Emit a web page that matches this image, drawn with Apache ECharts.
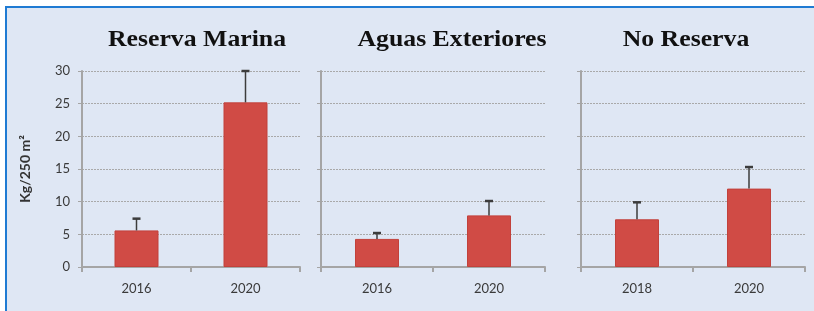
<!DOCTYPE html>
<html>
<head>
<meta charset="utf-8">
<script src="https://cdn.jsdelivr.net/npm/echarts@6/dist/echarts.min.js"></script>
<style>html,body{margin:0;padding:0;background:#fff;}#c{width:814px;height:311px;}</style>
</head>
<body>
<div id="c"></div>
<script>
const titles = ['Reserva Marina', 'Aguas Exteriores', 'No Reserva'];
const categories1 = ['2016', '2020'];
const values1 = [5.6, 25.2];
const errTop1 = [7.4, 30.0];
const categories2 = ['2016', '2020'];
const values2 = [4.3, 7.9];
const errTop2 = [5.2, 10.1];
const categories3 = ['2018', '2020'];
const values3 = [7.3, 12.0];
const errTop3 = [9.9, 15.3];
const yTicks = [0, 5, 10, 15, 20, 25, 30];
const yName = 'Kg/250 m²';

const cats = [categories1, categories2, categories3];
const vals = [values1, values2, values3];
const errs = [errTop1, errTop2, errTop3];

const grids = [
  {left: 82, top: 71, width: 218, height: 196},
  {left: 321, top: 71, width: 224, height: 196},
  {left: 581, top: 71, width: 224, height: 196}
];
const titleCenters = [197, 452, 686];

const axisGray = '#a5a5a5';
const labelColor = '#3a3a3a';
const labelFont = 'Lato, "Open Sans", sans-serif';

const xAxes = [], yAxes = [], series = [];
for (let i = 0; i < 3; i++) {
  xAxes.push({
    type: 'category', gridIndex: i, data: cats[i],
    axisLine: {lineStyle: {color: axisGray, width: 2}},
    axisTick: {show: true, length: 5, lineStyle: {color: axisGray, width: 2}},
    axisLabel: {color: labelColor, fontSize: 13, fontFamily: labelFont, margin: 15},
    splitLine: {show: false}
  });
  yAxes.push({
    type: 'value', gridIndex: i, min: yTicks[0], max: yTicks[yTicks.length - 1], interval: 5,
    name: i === 0 ? yName : '',
    nameLocation: 'middle', nameRotate: 90, nameGap: 50,
    nameTextStyle: {color: '#333', fontSize: 14, fontWeight: 'bold', fontFamily: labelFont},
    axisLine: {show: true, lineStyle: {color: axisGray, width: 2}},
    axisTick: {show: true, length: 4, lineStyle: {color: axisGray, width: 1}},
    axisLabel: {show: i === 0, color: labelColor, fontSize: 13, fontFamily: labelFont, margin: 12},
    splitLine: {show: true, lineStyle: {color: '#a9a9a9', width: 1, type: [2, 1]}}
  });
  series.push({
    type: 'bar', xAxisIndex: i, yAxisIndex: i, data: vals[i], barWidth: 44,
    itemStyle: {color: '#d04b45', borderColor: '#c2413b', borderWidth: 1},
    silent: true, z: 2
  });
  series.push({
    type: 'custom', xAxisIndex: i, yAxisIndex: i,
    data: errs[i].map((e, k) => [k, e, vals[i][k]]),
    encode: {x: 0, y: 1},
    z: 3, silent: true,
    renderItem: function (params, api) {
      const top = api.coord([api.value(0), api.value(1)]);
      const base = api.coord([api.value(0), api.value(2)]);
      const hw = 4;
      return {
        type: 'group',
        children: [
          {type: 'line', shape: {x1: top[0], y1: top[1], x2: base[0], y2: base[1]},
           style: {stroke: '#3c3c3c', lineWidth: 1.5}},
          {type: 'line', shape: {x1: top[0] - hw, y1: top[1], x2: top[0] + hw, y2: top[1]},
           style: {stroke: '#3c3c3c', lineWidth: 2.5}}
        ]
      };
    }
  });
}

const graphics = [
  {type: 'rect', z: -10, silent: true, shape: {x: 6, y: 7, width: 1000, height: 500},
   style: {fill: '#dfe7f4', stroke: '#1f7bd3', lineWidth: 2}}
];
titles.forEach((t, i) => {
  graphics.push({
    type: 'text', x: titleCenters[i], y: 40, scaleX: 1.12, silent: true,
    style: {text: t, x: 0, y: 0, textAlign: 'center', textVerticalAlign: 'middle',
            font: 'bold 23px "Liberation Serif", "Times New Roman", serif', fill: '#111'}
  });
});

const chart = echarts.init(document.getElementById('c'), null, {renderer: 'canvas'});
chart.setOption({
  animation: false,
  backgroundColor: '#ffffff',
  grid: grids,
  xAxis: xAxes,
  yAxis: yAxes,
  series: series,
  graphic: graphics
});
</script>
</body>
</html>
